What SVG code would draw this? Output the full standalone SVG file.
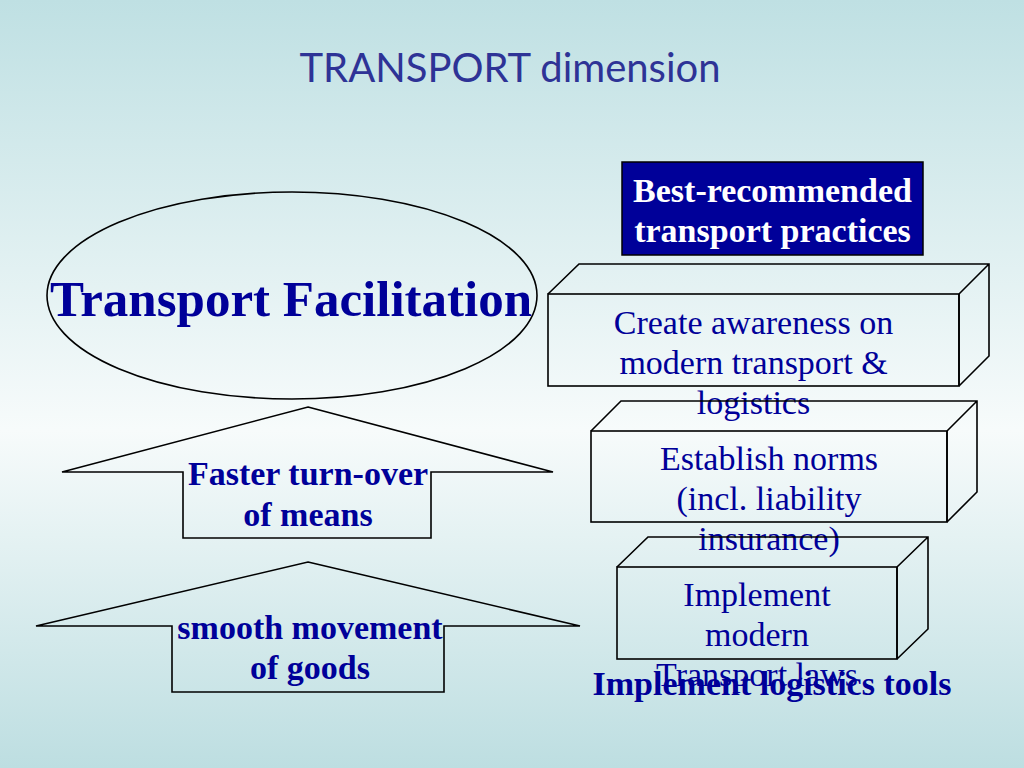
<svg xmlns="http://www.w3.org/2000/svg" width="1024" height="768" viewBox="0 0 1024 768">
<defs>
<linearGradient id="bg" x1="0" y1="0" x2="0" y2="1">
<stop offset="0" stop-color="#bfe0e3"/>
<stop offset="0.56" stop-color="#f7fbfb"/>
<stop offset="1" stop-color="#bddee1"/>
</linearGradient>
<style>
.ln{fill:none;stroke:#000;stroke-width:1.6;stroke-linejoin:miter}
.b{font-family:"Liberation Serif","Times New Roman",serif;font-weight:bold;font-size:34px;fill:#000099;text-anchor:middle}
.r{font-family:"Liberation Serif","Times New Roman",serif;font-size:34px;fill:#000099;text-anchor:middle}
.w{fill:#ffffff}
</style>
</defs>
<rect width="1024" height="768" fill="url(#bg)"/>
<text x="510" y="82" font-family="Lato, 'Open Sans', sans-serif" font-size="40" fill="#2e3396" text-anchor="middle">TRANSPORT dimension</text>

<g id="ellipse">
<ellipse class="ln" cx="292" cy="295.5" rx="245" ry="103.5"/>
<text class="b" x="291" y="316" style="font-size:51px">Transport Facilitation</text>
</g>

<g id="arrow1">
<path class="ln" d="M308,407 L553,472 L431,472 L431,538 L183,538 L183,472 L62,472 Z"/>
<text class="b" x="308" y="485">Faster turn-over</text>
<text class="b" x="308" y="526">of means</text>
</g>

<g id="arrow2">
<path class="ln" d="M308,562 L580,626 L444,626 L444,692 L172,692 L172,626 L36,626 Z"/>
<text class="b" x="310" y="639">smooth movement</text>
<text class="b" x="310" y="679">of goods</text>
</g>

<g id="best">
<rect x="622" y="162" width="301" height="93" fill="#000099" stroke="#000" stroke-width="1.5"/>
<text class="b w" x="772.5" y="202">Best-recommended</text>
<text class="b w" x="772.5" y="242">transport practices</text>
</g>

<g id="box1">
<path class="ln" d="M548,294 L579,264 L989,264 L989,356 L959,386 M959,294 L989,264 M959,294 L959,386"/>
<rect class="ln" x="548" y="294" width="411" height="92"/>
<text class="r" x="753.5" y="334">Create awareness on</text>
<text class="r" x="753.5" y="374">modern transport &amp;</text>
<text class="r" x="753.5" y="414">logistics</text>
</g>

<g id="box2">
<path class="ln" d="M591,431 L621,401 L977,401 L977,492 L947,522 M947,431 L977,401 M947,431 L947,522"/>
<rect class="ln" x="591" y="431" width="356" height="91"/>
<text class="r" x="769" y="470">Establish norms</text>
<text class="r" x="769" y="510">(incl. liability</text>
<text class="r" x="769" y="550">insurance)</text>
</g>

<g id="box3">
<path class="ln" d="M617,567 L648,537 L928,537 L928,629 L897,659 M897,567 L928,537 M897,567 L897,659"/>
<rect class="ln" x="617" y="567" width="280" height="92"/>
<text class="r" x="757" y="606">Implement</text>
<text class="r" x="757" y="646">modern</text>
<text class="r" x="757" y="686">Transport laws</text>
</g>

<g id="label">
<text class="b" x="772" y="695">Implement logistics tools</text>
</g>
<g id="connectors"/>
</svg>
